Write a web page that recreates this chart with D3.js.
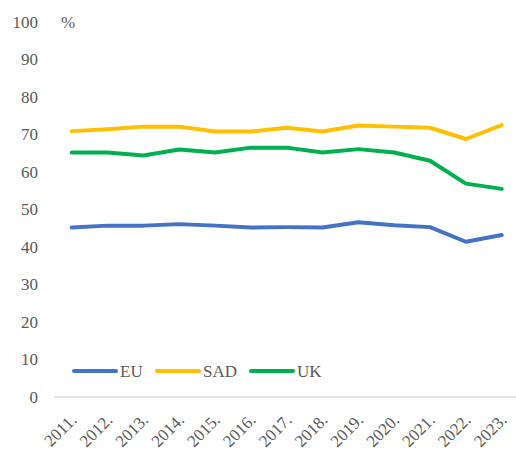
<!DOCTYPE html>
<html>
<head>
<meta charset="utf-8">
<script src="https://cdn.jsdelivr.net/npm/d3@7"></script>
<style>
  body { margin: 0; background: #fff; }
  svg { display: block; font-family: "Liberation Serif", "Times New Roman", serif; }
</style>
</head>
<body>
<div id="chart"></div>
<script>
const width = 516;
const height = 452;

const years = ["2011.", "2012.", "2013.", "2014.", "2015.", "2016.", "2017.",
  "2018.", "2019.", "2020.", "2021.", "2022.", "2023."];
const euValues = [45.2, 45.7, 45.7, 46.1, 45.7, 45.2, 45.3, 45.2, 46.6, 45.8, 45.3, 41.4, 43.2];
const sadValues = [70.9, 71.4, 72.1, 72.1, 70.8, 70.8, 71.8, 70.8, 72.4, 72.1, 71.8, 68.8, 72.5];
const ukValues = [65.2, 65.2, 64.4, 66.0, 65.2, 66.5, 66.5, 65.2, 66.1, 65.2, 63.0, 56.9, 55.5];
const yTicks = [0, 10, 20, 30, 40, 50, 60, 70, 80, 90, 100];

const series = [
  { name: "EU", color: "#4472C4", values: euValues },
  { name: "SAD", color: "#FFC000", values: sadValues },
  { name: "UK", color: "#00B050", values: ukValues }
];

const x = d3.scalePoint(years, [71.7, 501.7]);
const y = d3.scaleLinear([0, 100], [397, 22]);

const svg = d3.select("#chart").append("svg")
  .attr("width", width)
  .attr("height", height);

// baseline
svg.append("line")
  .attr("x1", 54).attr("x2", width)
  .attr("y1", y(0)).attr("y2", y(0))
  .attr("stroke", "#d9d9d9")
  .attr("stroke-width", 1.5);

// y tick labels
svg.selectAll(".ytick")
  .data(yTicks)
  .join("text")
  .attr("class", "ytick")
  .attr("x", 38)
  .attr("y", d => y(d))
  .attr("dy", "0.35em")
  .attr("text-anchor", "end")
  .attr("fill", "#595959")
  .attr("font-size", 17)
  .text(d => d);

svg.append("text")
  .attr("x", 61)
  .attr("y", y(100))
  .attr("dy", "0.35em")
  .attr("fill", "#595959")
  .attr("font-size", 17)
  .text("%");

// x labels
svg.selectAll(".xtick")
  .data(years)
  .join("text")
  .attr("class", "xtick")
  .attr("transform", d => `translate(${x(d) + 6},${y(0) + 24}) rotate(-45)`)
  .attr("text-anchor", "end")
  .attr("fill", "#595959")
  .attr("font-size", 17)
  .text(d => d);

const line = d3.line()
  .x((v, i) => x(years[i]))
  .y(v => y(v));

svg.selectAll(".series")
  .data(series)
  .join("path")
  .attr("class", "series")
  .attr("fill", "none")
  .attr("stroke", d => d.color)
  .attr("stroke-width", 4)
  .attr("stroke-linejoin", "round")
  .attr("stroke-linecap", "round")
  .attr("d", d => line(d.values));

// legend
const legendX = [74, 157, 251];
const legend = svg.selectAll(".legend")
  .data(series)
  .join("g")
  .attr("class", "legend")
  .attr("transform", (d, i) => `translate(${legendX[i]},371)`);
legend.append("line")
  .attr("x1", 0).attr("x2", 42)
  .attr("stroke", d => d.color)
  .attr("stroke-width", 4)
  .attr("stroke-linecap", "round");
legend.append("text")
  .attr("x", 46)
  .attr("dy", "0.35em")
  .attr("fill", "#595959")
  .attr("font-size", 17)
  .text(d => d.name);
</script>
</body>
</html>
